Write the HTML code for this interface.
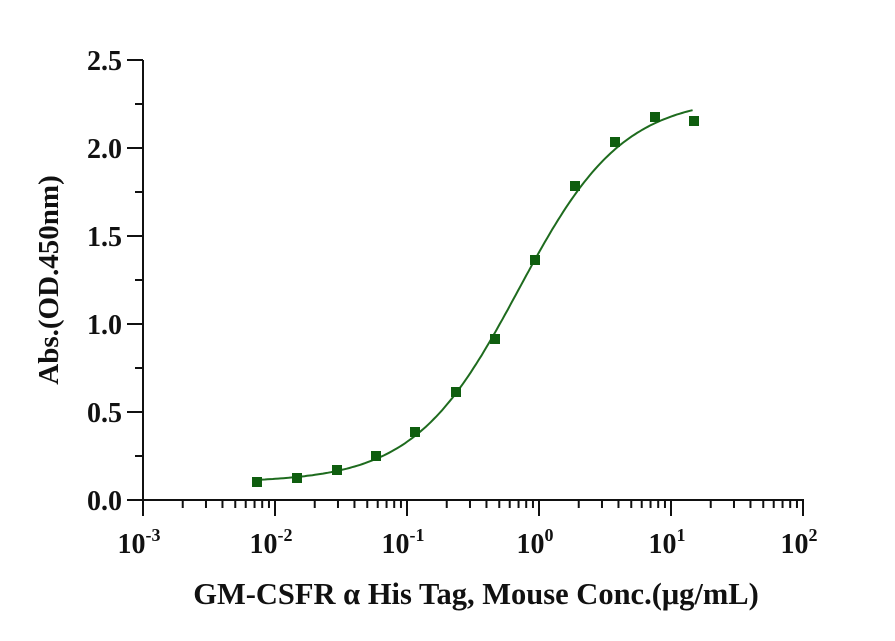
<!DOCTYPE html>
<html><head><meta charset="utf-8"><style>
html,body{margin:0;padding:0;background:#fff;width:895px;height:641px;overflow:hidden}
text{font-family:"Liberation Serif",serif;font-weight:bold;fill:#111}
</style></head><body>
<svg id="s" width="895" height="641" xmlns="http://www.w3.org/2000/svg">
<g stroke="#111" stroke-width="2" fill="none" id="ax">
<line x1="143" y1="60" x2="143" y2="501"/>
<line x1="127" y1="500" x2="804" y2="500"/>
</g>
<g font-size="28" text-anchor="end">
<text x="122" y="510">0.0</text>
<text x="122" y="422">0.5</text>
<text x="122" y="334">1.0</text>
<text x="122" y="246">1.5</text>
<text x="122" y="158">2.0</text>
<text x="122" y="70">2.5</text>
</g>
<g font-size="28" text-anchor="middle" id="xl"></g>
<text x="0" y="0" font-size="29" text-anchor="middle" transform="translate(58,280) rotate(-90)">Abs.(OD.450nm)</text>
<text x="476" y="604" font-size="30.5" text-anchor="middle">GM-CSFR α His Tag, Mouse Conc.(μg/mL)</text>
<path id="c" fill="none" stroke="#1e6b1e" stroke-width="2"/>
<g id="pts" fill="#0f5e0f"></g>
</svg>
<script>
var ns="http://www.w3.org/2000/svg",ax=document.getElementById("ax");
function X(v){return 143+132*(Math.log10(v)+3);}
function Y(v){return 500-176*v;}
function L(x1,y1,x2,y2){var l=document.createElementNS(ns,"line");l.setAttribute("x1",x1);l.setAttribute("y1",y1);l.setAttribute("x2",x2);l.setAttribute("y2",y2);ax.appendChild(l);}
for(var i=0;i<=5;i++){var y=Y(i*0.5);L(127,y,143,y);if(i<5){L(135,Y(i*0.5+0.25),143,Y(i*0.5+0.25));}}
var xl=document.getElementById("xl");
for(var d=-3;d<=2;d++){var x=X(Math.pow(10,d));L(x,500,x,516);
 var t=document.createElementNS(ns,"text");t.setAttribute("x",x-4);t.setAttribute("y",553);
 t.innerHTML='10<tspan font-size="18" dy="-12">'+d+'</tspan>';xl.appendChild(t);
 if(d<2)for(var k=2;k<=9;k++){var xx=X(k*Math.pow(10,d));L(xx,500,xx,508);}}
function f(x){var r=Math.pow(x/0.7,1.1);return 0.1+2.19*r/(1+r);}
var p="";for(var lx=Math.log10(0.0073);lx<=Math.log10(14.7);lx+=0.02){var x=Math.pow(10,lx);p+=(p?"L":"M")+X(x).toFixed(1)+","+Y(f(x)).toFixed(1);}
document.getElementById("c").setAttribute("d",p);
var data=[[257,482],[297,478],[337,470],[376,456],[415,432],[456,392],[495,339],[535,260],[575,186],[615,142],[655,117],[694,121]];
var g=document.getElementById("pts");
data.forEach(function(q){var r=document.createElementNS(ns,"rect");r.setAttribute("x",q[0]-5);r.setAttribute("y",q[1]-5);r.setAttribute("width",10);r.setAttribute("height",10);g.appendChild(r);});
</script>
</body></html>
